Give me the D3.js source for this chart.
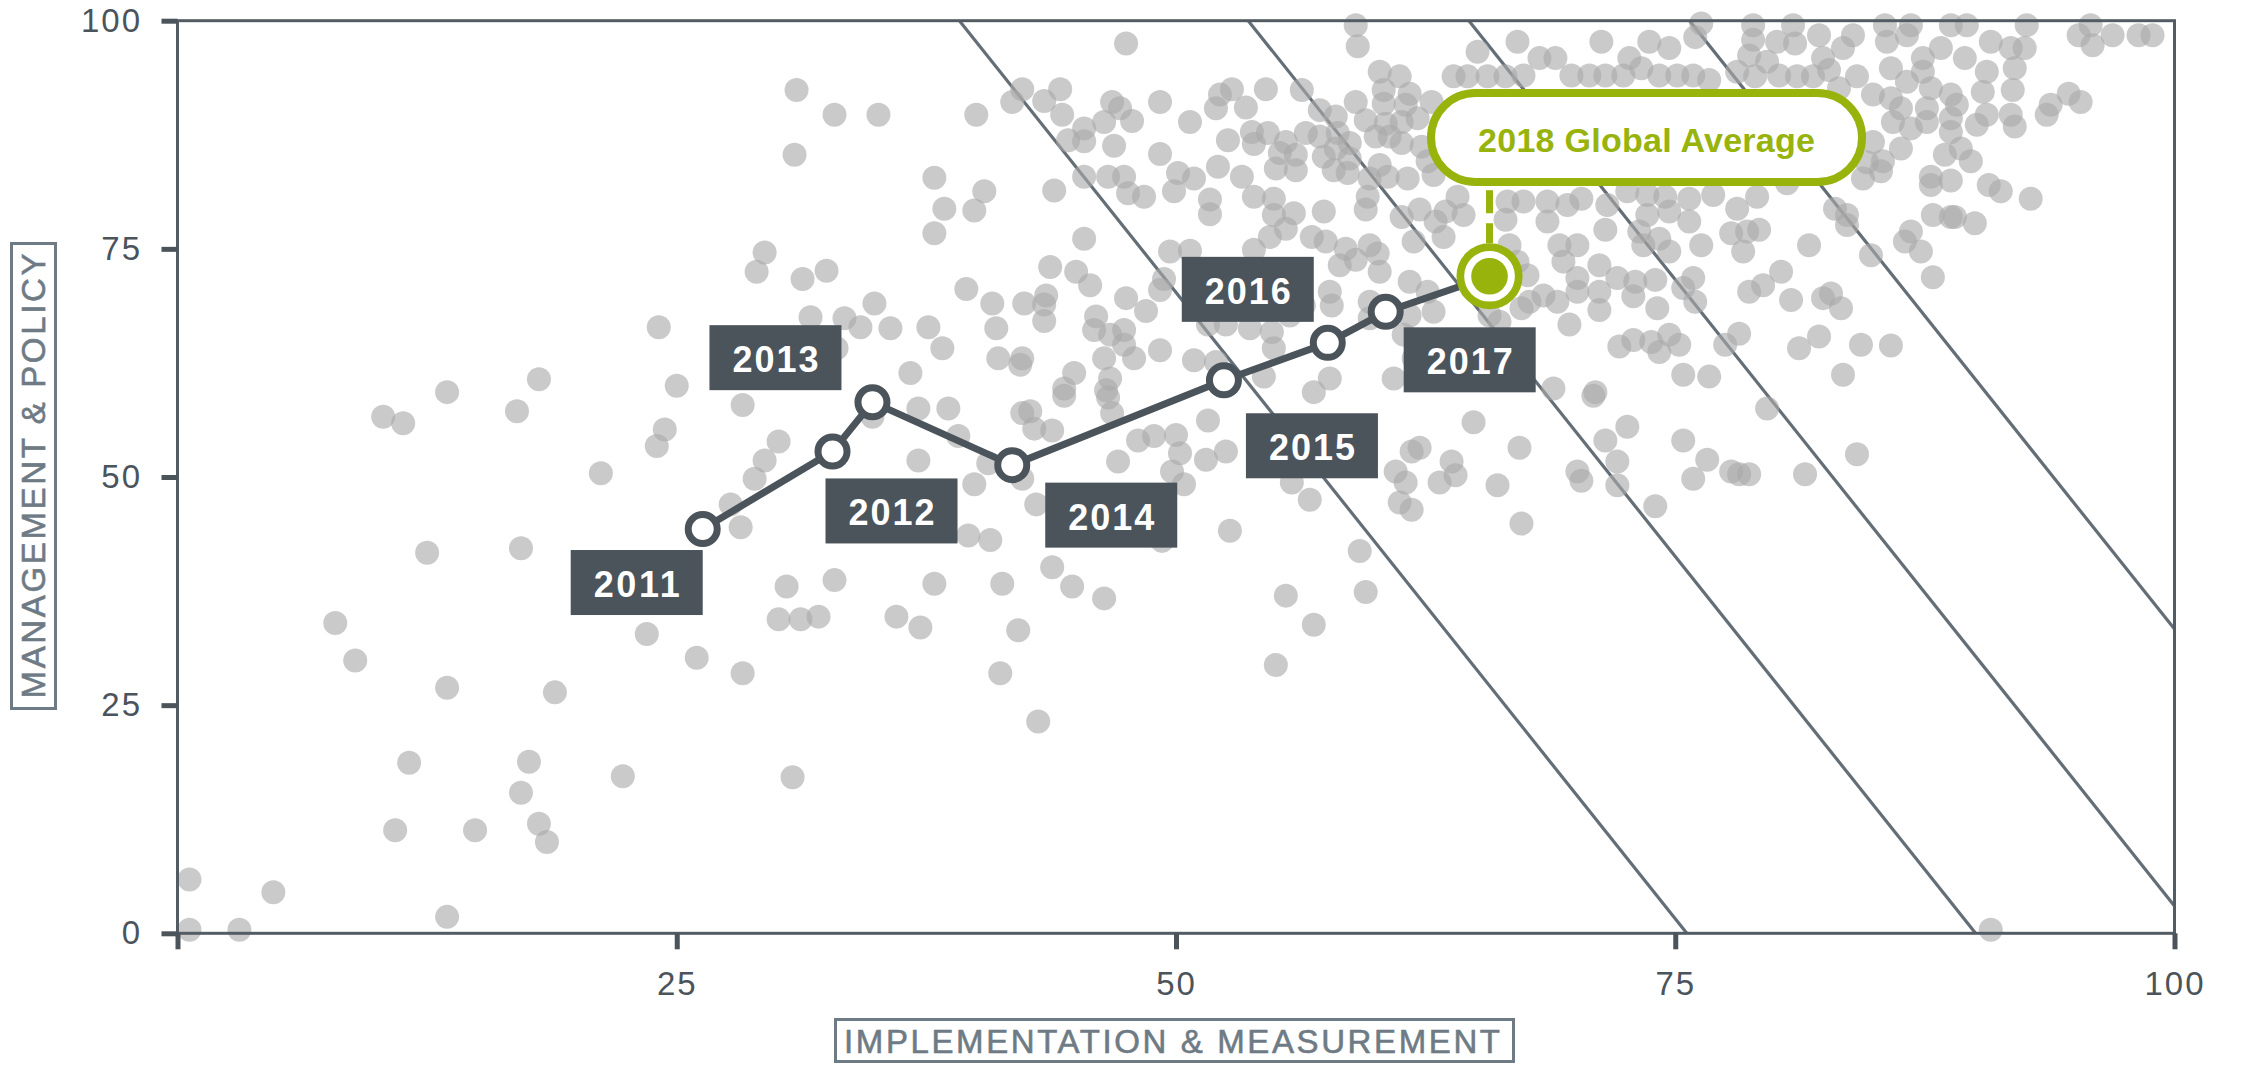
<!DOCTYPE html>
<html><head><meta charset="utf-8">
<script src="https://cdn.jsdelivr.net/npm/d3@7"></script>
<style>
html,body{margin:0;padding:0;background:#fff;}
svg{display:block;}
</style></head>
<body><svg id="chart" width="2244" height="1066"></svg>
<script>
// ---------------- DATA ----------------
// Country scores: [implementation & measurement, management & policy]
const countries = [
[10.3,56.6],[11.3,55.9],[13.5,59.3],[17.0,57.2],[18.1,60.7],[24.1,66.4],[25.0,60.0],[24.4,55.2],[24.0,53.4],[21.2,50.4],
[12.5,41.7],[17.2,42.2],[7.9,34.0],[8.9,29.9],[13.5,26.9],[18.9,26.4],[23.5,32.8],[26.0,30.2],[11.6,18.7],[17.6,18.8],[17.2,15.4],[22.3,17.2],[10.9,11.3],[14.9,11.3],[18.1,12.0],[18.5,10.0],[0.6,5.9],[4.8,4.5],[0.6,0.4],[3.1,0.4],[13.5,1.8],
[31.0,92.4],[32.9,89.7],[35.1,89.7],[30.9,85.3],[37.9,82.8],[38.4,79.4],[37.9,76.7],[29.4,74.6],[29.0,72.5],[31.3,71.7],[32.5,72.6],[31.7,67.5],[33.4,67.4],[34.2,66.4],[34.9,69.0],[35.7,66.3],[37.6,66.4],[38.3,64.1],[33.0,64.1],[36.7,61.4],[28.3,57.9],[34.8,56.6],[37.1,57.5],[38.6,57.5],[39.1,54.5],[30.1,53.9],[29.4,51.8],[28.9,49.8],[27.7,47.0],[28.2,44.5],[37.1,51.8],[39.9,49.2],[40.6,51.5],[42.3,49.8],[43.0,47.0],[47.1,51.7],[48.1,54.0],[48.9,54.5],[50.0,54.6],[50.2,52.6],[51.5,51.9],[52.5,52.8],[49.8,50.6],[50.4,49.2],[51.6,56.2],[52.7,44.1],[43.8,55.1],[42.3,57.0],[42.9,55.3],[42.7,57.2],[46.6,58.7],[46.8,57.0],[44.4,58.9],
[39.6,43.6],[40.7,43.1],[30.5,38.0],[32.9,38.7],[30.1,34.4],[31.2,34.4],[32.1,34.7],[36.0,34.7],[37.2,33.5],[37.9,38.3],[41.3,38.3],[43.8,40.1],[44.8,38.0],[46.4,36.7],[42.1,33.2],[28.3,28.5],[41.2,28.5],[43.1,23.2],[30.8,17.1],[49.3,43.0],
[55.8,49.4],[56.7,47.5],[61.8,52.8],[62.2,53.2],[61.0,50.6],[61.5,49.4],[61.2,47.2],[61.8,46.4],[63.2,49.4],[63.8,51.7],[64.0,50.2],[64.9,56.0],[66.1,49.1],[67.2,53.2],[67.3,44.9],[70.1,50.6],[70.3,49.6],[70.9,58.9],[71.5,54.0],[72.1,51.7],[72.6,55.5],[72.1,49.1],[74.0,46.8],[75.4,54.0],[75.9,49.8],[76.6,51.9],[77.8,50.6],
[59.2,41.9],[55.5,37.0],[59.5,37.4],[56.9,33.8],[55.0,29.4],
[79.6,57.5],[84.1,52.5],[78.2,50.3],[78.7,50.3],[81.5,50.3],
[90.8,0.4],
[47.5,97.5],[42.3,92.5],[41.8,91.1],[40.0,89.7],[43.4,91.2],[44.2,92.5],[44.3,89.7],[45.4,88.2],[44.6,86.9],[45.4,86.8],[46.8,91.1],[47.2,90.4],[46.4,88.9],[47.8,89.0],[49.2,91.1],[50.7,88.9],[46.9,86.3],[49.2,85.4],[52.2,91.9],[52.8,92.5],[52.0,90.4],[53.5,90.5],[54.5,92.5],[52.6,86.9],[53.8,87.8],[53.9,86.5],[54.6,87.7],[52.1,84.0],[53.3,82.9],[53.9,80.7],[54.9,80.5],[40.4,81.3],[39.9,79.2],[43.9,81.4],[45.4,82.9],[46.6,82.9],[47.4,82.9],[47.6,81.1],[48.4,80.7],[50.1,83.3],[50.9,82.7],[49.9,81.3],[51.7,80.4],[51.7,78.8],[45.4,76.1],[43.7,73.0],[45.0,72.5],[45.7,71.0],[39.5,70.6],[40.8,69.0],[42.4,69.0],[43.5,69.9],[43.4,68.9],[43.4,67.1],[41.0,66.3],[41.1,63.0],[42.3,63.0],[42.2,62.3],[46.0,67.6],[45.9,66.1],[46.7,65.6],[47.4,66.1],[47.5,69.6],[47.4,64.5],[47.9,63.0],[46.4,63.0],[48.5,68.2],[49.2,70.5],[49.4,71.7],[49.7,74.7],[50.7,74.8],[49.2,63.9],[50.9,62.8],[44.9,61.4],[46.7,60.8],[53.9,74.9],[54.7,76.3],[54.9,78.7],[51.6,66.7],[52.5,66.7],[53.7,66.3],[54.8,65.9],[54.9,64.1],[54.4,61.0],[52.0,62.6],[44.4,59.7],[46.5,59.5],
[59.0,99.5],[59.1,97.2],[67.1,97.7],[65.1,96.6],[68.2,95.9],[69.0,95.9],[69.8,94.0],[60.2,94.4],[61.2,93.9],[63.9,93.9],[64.6,93.9],[65.6,93.9],[66.5,93.9],[67.4,94.0],[56.3,92.4],[60.4,92.4],[61.7,92.0],[59.0,91.1],[60.4,90.9],[61.5,90.8],[62.8,91.1],[57.2,90.2],[58.0,89.5],[59.5,89.1],[60.5,88.7],[61.3,88.9],[62.1,89.3],[56.5,87.7],[55.5,86.7],[57.2,87.3],[58.1,87.7],[58.7,86.6],[60.0,87.3],[60.7,87.3],[61.3,86.6],[62.3,86.2],[56.0,85.3],[58.0,86.0],[57.4,85.1],[58.7,84.9],[57.9,83.6],[58.6,83.3],[60.2,84.2],[59.7,82.7],[60.6,82.9],[61.6,82.7],[62.6,84.6],[62.9,83.1],[55.0,83.8],[56.0,83.6],[55.2,85.5],[59.6,80.7],[59.5,79.3],[55.9,78.9],[55.5,77.2],[57.4,79.1],[56.8,76.3],[57.5,75.8],[58.5,75.0],[59.7,75.4],[60.1,74.5],[59.0,73.8],[58.2,73.2],[60.2,72.5],[61.3,78.5],[62.2,79.3],[61.9,75.8],[63.0,78.0],[63.5,79.1],[64.1,80.7],[64.4,78.7],[63.4,76.3],[66.6,80.2],[67.4,80.2],[66.5,78.2],[68.6,80.2],[68.6,78.0],[69.6,79.8],[70.3,80.5],[66.7,75.4],[67.1,73.6],[67.6,72.1],[69.2,75.4],[70.1,75.4],[69.4,73.6],[68.4,69.9],[69.1,69.2],[70.1,71.8],[70.1,70.3],[67.3,68.5],[67.7,69.2],[57.7,70.3],[57.8,68.8],[56.4,68.8],[55.7,67.7],[59.7,69.2],[59.7,67.4],[61.7,71.4],[62.6,70.3],[61.7,67.7],[62.9,68.1],[61.4,65.6],[61.9,63.0],[62.6,63.7],[60.9,60.8],[57.7,60.8],[56.9,59.3],[65.7,67.7],[66.2,67.0],[69.7,66.7],[68.9,59.7],
[76.3,99.7],[78.9,99.5],[80.9,99.5],[85.5,99.5],[71.3,97.7],[73.7,97.7],[74.7,97.0],[76.0,98.2],[78.9,97.9],[80.1,97.7],[81.0,97.5],[82.2,98.4],[83.4,97.0],[83.9,98.4],[72.7,95.9],[73.3,94.8],[78.7,96.2],[79.6,95.5],[82.4,95.9],[70.7,94.0],[71.5,94.0],[72.4,94.0],[74.2,94.0],[75.1,94.0],[75.9,94.0],[76.7,93.5],[78.1,94.4],[79.0,93.9],[80.2,94.0],[81.1,93.9],[81.9,93.9],[82.7,94.6],[84.1,93.9],[83.2,92.6],[84.9,91.9],[84.9,86.7],[85.3,83.5],[84.6,84.5],[84.4,82.7],[71.6,79.8],[72.6,81.3],[73.6,80.9],[74.5,80.7],[75.7,80.5],[76.9,80.9],[78.1,79.4],[79.1,80.7],[80.6,82.2],[73.6,78.7],[74.7,79.1],[75.7,78.0],[71.5,77.1],[73.2,76.9],[74.2,76.1],[73.4,75.4],[74.7,74.7],[76.3,75.4],[77.8,76.7],[78.6,76.9],[79.2,77.1],[78.4,74.7],[71.2,73.2],[72.1,71.8],[73.0,71.4],[74.0,71.6],[71.2,70.3],[72.9,69.8],[74.1,68.5],[75.4,70.7],[75.9,71.8],[76.0,69.2],[71.2,68.3],[78.7,70.3],[79.4,71.0],[80.3,72.5],[80.8,69.4],[81.7,75.4],[82.4,69.6],[83.3,68.5],[82.8,70.1],[83.6,78.7],[83.6,77.6],[83.0,79.4],[84.8,74.3],[72.2,64.3],[72.9,65.0],[73.8,64.8],[74.7,65.6],[74.2,63.7],[75.2,64.5],[77.5,64.5],[78.2,65.7],[81.2,64.1],[82.2,65.4],[84.3,64.5],[75.4,61.2],[76.7,61.0],[83.4,61.2],[71.0,59.3],
[86.8,99.5],[88.8,99.5],[89.6,99.5],[92.6,99.5],[95.8,99.5],[95.2,98.4],[95.9,97.3],[96.9,98.4],[98.2,98.4],[98.9,98.4],[85.6,97.7],[86.6,98.4],[88.3,97.0],[89.5,95.9],[90.8,97.7],[91.8,97.0],[92.5,97.0],[87.4,95.9],[85.8,94.8],[87.4,94.4],[90.6,94.4],[92.0,94.8],[86.6,93.3],[87.8,92.6],[88.8,91.9],[90.4,92.2],[91.9,92.4],[85.8,91.5],[86.3,90.4],[87.6,90.4],[89.1,90.8],[90.6,89.7],[90.1,88.6],[88.8,89.3],[91.8,89.7],[92.0,88.4],[93.8,90.8],[94.7,92.0],[95.3,91.1],[93.6,89.7],[85.9,88.9],[86.8,88.2],[87.6,88.9],[88.8,87.8],[86.3,86.0],[85.4,84.6],[88.5,85.3],[89.3,86.0],[89.8,84.6],[87.8,82.9],[87.8,82.0],[88.8,82.5],[90.7,82.0],[91.3,81.3],[92.8,80.5],[87.9,78.7],[88.8,78.5],[89.0,78.5],[90.0,77.8],[86.8,76.9],[86.5,75.8],[87.3,74.7],[87.9,71.9],[85.8,64.4]
];

// Global average trajectory
const years     = [2011, 2012, 2013, 2014, 2015, 2016, 2017, 2018];
const yearImpl  = [26.3, 32.8, 34.8, 41.8, 52.4, 57.6, 60.5, 65.7];
const yearMgmt  = [44.3, 52.8, 58.2, 51.3, 60.6, 64.7, 68.1, 72.0];

// Iso-score reference lines (weighted score = wImpl*x + wMgmt*y)
const isoScores  = [55.4, 66.0, 74.1, 82.2];
const isoWeights = [0.733, 0.267];

const xTickValues = [0, 25, 50, 75, 100];
const yTickValues = [0, 25, 50, 75, 100];
const xTitle = "IMPLEMENTATION & MEASUREMENT";
const yTitle = "MANAGEMENT & POLICY";
const calloutText = "2018 Global Average";

// ---------------- LAYOUT / STYLE ----------------
const dark = "#4b535b", green = "#97b30c", titleGray = "#6e7b85";
const font = "'Liberation Sans', Arial, sans-serif";
// year-label box placement relative to its point (px), box 132x65
const labelOffsets = [[-132,21],[-7,27],[-163,-77],[33,17.5],[22,33],[-146,-86],[18,15.5]];

const svg = d3.select("#chart");
const x = d3.scaleLinear().domain([0,100]).range([177.5, 2174.5]);
const y = d3.scaleLinear().domain([0,100]).range([933.3, 20.7]);

// iso lines
function isoSegment(s){
  const [wx, wy] = isoWeights;
  const pts = [];
  const cand = [
    [(s - wy*100)/wx, 100],
    [s/wx, 0],
    [0, s/wy],
    [100, (s - wx*100)/wy]
  ];
  cand.forEach(p => { if (p[0] >= -1e-6 && p[0] <= 100+1e-6 && p[1] >= -1e-6 && p[1] <= 100+1e-6) pts.push(p); });
  pts.sort((a,b)=>a[0]-b[0]);
  return [pts[0], pts[pts.length-1]];
}
svg.append("g").selectAll("line").data(isoScores).join("line")
  .each(function(s){
    const [a,b] = isoSegment(s);
    d3.select(this).attr("x1",x(a[0])).attr("y1",y(a[1])).attr("x2",x(b[0])).attr("y2",y(b[1]));
  })
  .attr("stroke","#646e76").attr("stroke-width",3.2);

// country dots
svg.append("g").selectAll("circle").data(countries).join("circle")
  .attr("cx", d=>x(d[0])).attr("cy", d=>y(d[1])).attr("r", 12)
  .attr("fill", "#a9a9a9").attr("fill-opacity", 0.62);

// frame
svg.append("rect").attr("x", x(0)).attr("y", y(100))
  .attr("width", x(100)-x(0)).attr("height", y(0)-y(100))
  .attr("fill","none").attr("stroke","#535b63").attr("stroke-width",3);

// axes
const gx = svg.append("g").attr("transform",`translate(0,${y(0)})`)
  .call(d3.axisBottom(x).tickValues(xTickValues).tickSize(16).tickPadding(22).tickFormat(d => d===0 ? "" : d));
const gy = svg.append("g").attr("transform",`translate(${x(0)},0)`)
  .call(d3.axisLeft(y).tickValues(yTickValues).tickSize(16).tickPadding(19.5));
[gx, gy].forEach(g => {
  g.select(".domain").remove();
  g.selectAll(".tick line").attr("stroke", dark).attr("stroke-width", 5);
  g.selectAll(".tick text").attr("fill", dark).attr("font-size", 33)
    .attr("font-family", font).attr("letter-spacing", "2px");
});

// axis titles
svg.append("rect").attr("x", 835.5).attr("y", 1019.5).attr("width", 678).attr("height", 42)
  .attr("fill","none").attr("stroke", titleGray).attr("stroke-width", 3);
svg.append("text").attr("x", 1172).attr("y", 1053).attr("text-anchor","middle")
  .attr("font-family", font).attr("font-size", 33).attr("fill", titleGray)
  .attr("stroke", titleGray).attr("stroke-width", 0.6)
  .attr("textLength", 656).attr("lengthAdjust","spacing").text(xTitle);
svg.append("rect").attr("x", 11.5).attr("y", 243.5).attr("width", 44).attr("height", 465)
  .attr("fill","none").attr("stroke", titleGray).attr("stroke-width", 3);
svg.append("text").attr("transform","translate(44.6,476) rotate(-90)").attr("text-anchor","middle")
  .attr("font-family", font).attr("font-size", 33).attr("fill", titleGray)
  .attr("stroke", titleGray).attr("stroke-width", 0.6)
  .attr("textLength", 445).attr("lengthAdjust","spacing").text(yTitle);

// trajectory
const traj = years.map((yr,i)=>({year:yr, x:yearImpl[i], y:yearMgmt[i]}));
svg.append("path").datum(traj)
  .attr("d", d3.line().x(d=>x(d.x)).y(d=>y(d.y)))
  .attr("fill","none").attr("stroke", dark).attr("stroke-width", 7).attr("stroke-linejoin","round");
const past = traj.slice(0, -1);
svg.append("g").selectAll("circle").data(past).join("circle")
  .attr("cx", d=>x(d.x)).attr("cy", d=>y(d.y)).attr("r", 14.5)
  .attr("fill","#fff").attr("stroke", dark).attr("stroke-width", 7);

// year labels
const lab = svg.append("g").selectAll("g").data(past).join("g")
  .attr("transform", (d,i)=>`translate(${x(d.x)+labelOffsets[i][0]},${y(d.y)+labelOffsets[i][1]})`);
lab.append("rect").attr("width",132).attr("height",65).attr("fill", dark);
lab.append("text").attr("x",66).attr("y",47).attr("text-anchor","middle")
  .attr("font-family", font).attr("font-weight","bold").attr("font-size",36).attr("fill","#fff")
  .attr("textLength",86).attr("lengthAdjust","spacing").text(d=>d.year);

// 2018 marker + callout
const last = traj[traj.length-1];
const px = x(last.x), py = y(last.y);
svg.append("line").attr("x1",px).attr("x2",px).attr("y1",py-86).attr("y2",py-33)
  .attr("stroke",green).attr("stroke-width",7).attr("stroke-dasharray","23,10");
svg.append("rect").attr("x",px-58.5).attr("y",py-183.2).attr("width",431).attr("height",89)
  .attr("rx",44.5).attr("ry",44.5).attr("fill","#fff").attr("stroke",green).attr("stroke-width",8);
svg.append("text").attr("x",px+157).attr("y",py-124).attr("text-anchor","middle")
  .attr("font-family", font).attr("font-weight","bold").attr("font-size",34).attr("fill",green)
  .attr("textLength",337).attr("lengthAdjust","spacing").text(calloutText);
svg.append("circle").attr("cx",px).attr("cy",py).attr("r",29.2)
  .attr("fill","#fff").attr("stroke",green).attr("stroke-width",7.7);
svg.append("circle").attr("cx",px).attr("cy",py).attr("r",18.3).attr("fill",green);
</script>
</body></html>
